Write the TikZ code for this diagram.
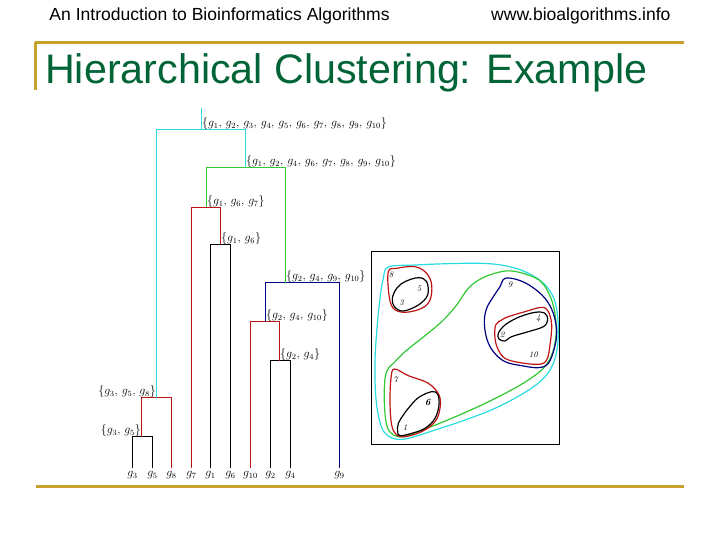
\documentclass[tikz,border=0pt]{standalone}
\usepackage{fontspec}
\newfontfamily\arialf{Liberation Sans}
\definecolor{gold}{RGB}{198,162,44}
\definecolor{titlegreen}{RGB}{0,100,55}
\definecolor{cyanline}{RGB}{40,220,225}
\definecolor{greenline}{RGB}{50,200,50}
\definecolor{redline}{RGB}{190,20,20}
\definecolor{navyline}{RGB}{0,0,130}
\begin{document}
\begin{tikzpicture}[x=1bp,y=-1bp,
  dline/.style={line width=1.5pt},
  setlab/.style={inner sep=0.5pt, font=\fontsize{12}{14}\selectfont},
  leaflab/.style={inner sep=0pt, font=\fontsize{11.5}{13}\selectfont},
  numlab/.style={inner sep=0pt, font=\fontsize{8.5}{10}\selectfont\itshape},
  curve/.style={line width=1.2pt},
  goldline/.style={gold, line width=3pt}]
\useasboundingbox[fill=white] (0,0) rectangle (720,540);

% header
\node[anchor=base west, inner sep=0, font=\arialf\fontsize{17.6}{20}\selectfont] (hl) at (49.3,20.7) {An Introduction to Bioinformatics Algorithms};
\node[anchor=base east, inner sep=0, font=\arialf\fontsize{17.6}{20}\selectfont] (hr) at (670.7,20.7) {www.bioalgorithms.info};
\coordinate (gl1) at (35,42.5);
\coordinate (gl2) at (683.5,42.5);
\coordinate (gv2) at (35.7,90);
\draw[goldline] (gl1) -- (gl2);
\draw[gold, line width=2.5pt] (gl1 -| gv2) -- (gv2);
\node[anchor=base west, inner sep=0, text=titlegreen, font=\arialf\fontsize{41.4}{48}\selectfont] (title) at (45,83.3) {Hierarchical Clustering: Example};
\coordinate (bl1) at (36,486.5);
\coordinate (bl2) at (684,486.5);
\draw[goldline] (bl1) -- (bl2);

% dendrogram leaves
\foreach \n/\x in {3/132.5,5/152.5,8/171.5,7/191.5,1/210.5,6/230.5,10/250.5,2/270.5,4/290.5,9/339.5}{
  \coordinate (g\n) at (\x,467.5);
  \node[leaflab] (lg\n) at (\x,475.5) {$g_{\n}$};
}
% junctions
\coordinate (j35) at (141.5,436.5);
\coordinate (j358) at (156.5,397.5);
\coordinate (j16) at (220.5,244.5);
\coordinate (j167) at (206.5,207.5);
\coordinate (j24) at (279.5,360.5);
\coordinate (j2410) at (265.5,321.5);
\coordinate (j24910) at (285.5,282.5);
\coordinate (j12) at (245.5,167.5);
\coordinate (jall) at (201.5,129.5);
\coordinate (jtop) at (201.5,108);

\draw[dline, draw=black] (g3) |- (j35) -| (g5);
\draw[dline, draw=redline] (j35) |- (j358) -| (g8);
\draw[dline, draw=black] (g1) |- (j16) -| (g6);
\draw[dline, draw=redline] (g7) |- (j167) -| (j16);
\draw[dline, draw=black] (g2) |- (j24) -| (g4);
\draw[dline, draw=redline] (g10) |- (j2410) -| (j24);
\draw[dline, draw=navyline] (j2410) |- (j24910) -| (g9);
\draw[dline, draw=greenline] (j167) |- (j12) -| (j24910);
\draw[dline, draw=cyanline] (j358) |- (jall) -| (j12);
\draw[dline, draw=cyanline] (jall) -- (jtop);

% set labels
\node[setlab, anchor=south west] (Lall) at ([yshift=-0.5]jall) {$\{g_1,\,g_2,\,g_3,\,g_4,\,g_5,\,g_6,\,g_7,\,g_8,\,g_9,\,g_{10}\}$};
\node[setlab, anchor=south west] (L12) at ([yshift=-0.5]j12) {$\{g_1,\,g_2,\,g_4,\,g_6,\,g_7,\,g_8,\,g_9,\,g_{10}\}$};
\node[setlab, anchor=south west] (L167) at ([yshift=-0.5]j167) {$\{g_1,\,g_6,\,g_7\}$};
\node[setlab, anchor=south west] (L16) at ([yshift=-0.5]j16) {$\{g_1,\,g_6\}$};
\node[setlab, anchor=south west] (L24910) at ([yshift=-0.5]j24910) {$\{g_2,\,g_4,\,g_9,\,g_{10}\}$};
\node[setlab, anchor=south west] (L2410) at ([yshift=-0.5]j2410) {$\{g_2,\,g_4,\,g_{10}\}$};
\node[setlab, anchor=south west] (L24) at ([yshift=-0.5]j24) {$\{g_2,\,g_4\}$};
\node[setlab, anchor=south east] (L358) at ([yshift=-0.5]j358) {$\{g_3,\,g_5,\,g_8\}$};
\node[setlab, anchor=south east] (L35) at ([yshift=-0.5]j35) {$\{g_3,\,g_5\}$};

% cluster picture
\draw[line width=1.2pt] (371.5,251.5) rectangle (559.5,444.5);
\begin{scope}[shift={(365,245)}, scale=1/3]
\draw[curve, cyanline] plot[smooth cycle, tension=0.6] coordinates {
 (70,66) (150,60) (250,56) (350,55) (420,62) (480,80) (530,110) (562,150) (576,200) (580,260)
 (575,320) (558,370) (525,410) (470,448) (390,490) (300,525) (210,555) (130,580) (90,582)
 (58,562) (42,520) (32,450) (30,350) (36,250) (45,160) (55,100)};
\draw[curve, greenline] plot[smooth cycle, tension=0.6] coordinates {
 (85,355) (120,320) (170,280) (230,230) (275,180) (310,130) (350,100) (400,82) (440,78)
 (490,90) (530,112) (558,160) (572,220) (572,280) (560,330) (535,370) (490,405) (430,440)
 (350,480) (260,520) (180,552) (120,574) (85,570) (65,540) (58,470) (60,400) (70,370)};
\draw[curve, navyline] plot[smooth cycle, tension=0.6] coordinates {
 (420,100) (405,125) (385,155) (365,190) (358,230) (365,280) (385,320) (420,350) (470,362)
 (520,368) (550,355) (568,310) (575,260) (565,205) (540,160) (500,125) (460,105)};
\draw[curve, redline] plot[smooth cycle, tension=0.6] coordinates {
 (392,240) (410,225) (430,215) (480,200) (530,187) (550,200) (560,240) (555,300) (545,345)
 (520,358) (460,352) (420,340) (400,315) (390,280)};
\draw[curve, black] plot[smooth cycle, tension=0.6] coordinates {
 (400,265) (420,240) (460,217) (510,202) (540,205) (548,225) (535,245) (490,260) (440,275)
 (420,288) (402,282)};
\draw[curve, redline] plot[smooth cycle, tension=0.6] coordinates {
 (70,80) (95,70) (150,65) (185,85) (200,120) (195,165) (170,190) (120,202) (85,190) (72,150)};
\draw[curve, black] plot[smooth cycle, tension=0.6] coordinates {
 (82,160) (95,130) (120,110) (160,98) (185,110) (188,150) (160,180) (115,198) (88,185)};
\draw[curve, redline] plot[smooth cycle, tension=0.6] coordinates {
 (88,372) (130,392) (190,415) (222,450) (225,490) (210,530) (170,560) (120,575) (95,570)
 (80,540) (75,470) (78,400)};
\draw[curve, black] plot[smooth cycle, tension=0.6] coordinates {
 (98,560) (100,535) (115,510) (130,490) (160,458) (200,440) (218,448) (222,480) (210,520)
 (180,550) (140,565) (105,572)};
\node[numlab] (p8) at (78,90) {8};
\node[numlab] (p5) at (162,130) {5};
\node[numlab] (p3) at (110,173) {3};
\node[numlab] (p9) at (435,118) {9};
\node[numlab] (p4) at (520,222) {4};
\node[numlab] (p2) at (412,268) {2};
\node[numlab] (p10) at (505,330) {10};
\node[numlab] (p7) at (92,403) {7};
\node[numlab, font=\fontsize{9.5}{10}\selectfont\bfseries\itshape] (p6) at (188,473) {6};
\node[numlab] (p1) at (120,548) {1};
\end{scope}
\end{tikzpicture}
\end{document}
